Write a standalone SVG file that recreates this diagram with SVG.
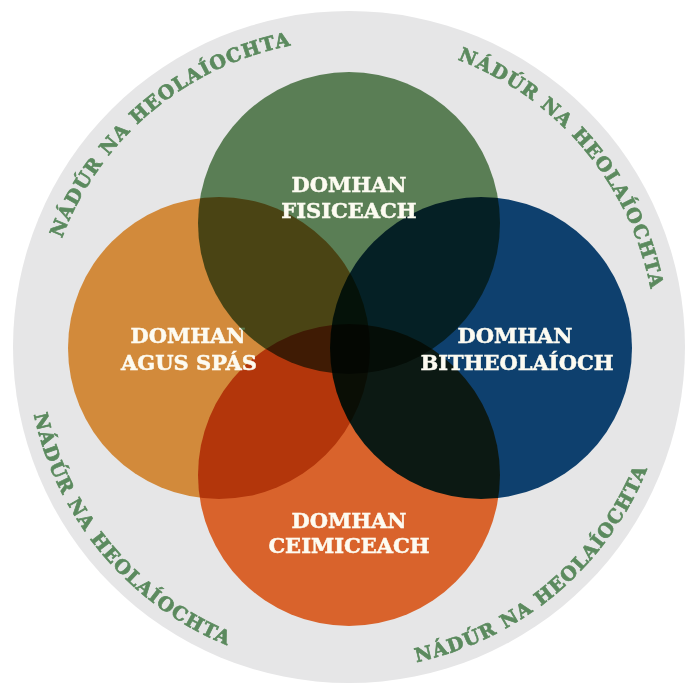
<svg xmlns="http://www.w3.org/2000/svg" xmlns:xlink="http://www.w3.org/1999/xlink" width="687" height="685" viewBox="0 0 687 685">
<style>
.disc{mix-blend-mode:multiply}
.lbl{font-family:"DejaVu Serif","Liberation Serif",serif;font-weight:bold;font-size:21px;fill:#fdfbf1;stroke:#fdfbf1;stroke-width:0.5px;text-anchor:middle}
.ring{font-family:"DejaVu Serif","Liberation Serif",serif;font-weight:bold;font-size:19px;fill:#5b8a5e;stroke:#5b8a5e;stroke-width:0.7px;letter-spacing:1.2px}
</style>
<defs>
<path id="arcTL" d="M83.1,500.5 A307,307 0 0 1 546.3,111.8"/>
<path id="arcTR" d="M195.5,81.1 A307,307 0 0 1 584.2,544.3"/>
<path id="arcBR" d="M142,593.7 A322,322 0 0 0 627.9,186"/>
<path id="arcBL" d="M102.3,140 A322,322 0 0 0 510,625.9"/>
</defs>
<rect width="687" height="685" fill="#ffffff"/>
<g id="ring">
<circle cx="349" cy="347" r="336" fill="#e6e6e7"/>
<text class="ring"><textPath xlink:href="#arcTL" href="#arcTL" startOffset="50%" text-anchor="middle">NÁDÚR NA HEOLAÍOCHTA</textPath></text>
<text class="ring"><textPath xlink:href="#arcTR" href="#arcTR" startOffset="50%" text-anchor="middle">NÁDÚR NA HEOLAÍOCHTA</textPath></text>
<text class="ring"><textPath xlink:href="#arcBR" href="#arcBR" startOffset="50%" text-anchor="middle">NÁDÚR NA HEOLAÍOCHTA</textPath></text>
<text class="ring"><textPath xlink:href="#arcBL" href="#arcBL" startOffset="50%" text-anchor="middle">NÁDÚR NA HEOLAÍOCHTA</textPath></text>
</g>
<g id="worlds" style="isolation:isolate">
<g id="ceimiceach">
<circle class="disc" cx="349" cy="475" r="151" fill="#d9632c"/>
<text class="lbl" x="349" y="528">DOMHAN</text>
<text class="lbl" x="349" y="553">CEIMICEACH</text>
</g>
<g id="bitheolaioch">
<circle class="disc" cx="481" cy="348" r="151" fill="#0e406e"/>
<text class="lbl" x="515" y="343">DOMHAN</text>
<text class="lbl" x="517" y="370">BITHEOLAÍOCH</text>
</g>
<g id="agus-spas">
<circle class="disc" cx="219" cy="348" r="151" fill="#d28a3b"/>
<text class="lbl" x="188" y="343">DOMHAN</text>
<text class="lbl" x="189" y="370">AGUS SPÁS</text>
</g>
<g id="fisiceach">
<circle class="disc" cx="349" cy="223" r="151" fill="#5a7e55"/>
<text class="lbl" x="349" y="192">DOMHAN</text>
<text class="lbl" x="349" y="218">FISICEACH</text>
</g>
</g>
<g id="connectors"/>
</svg>
